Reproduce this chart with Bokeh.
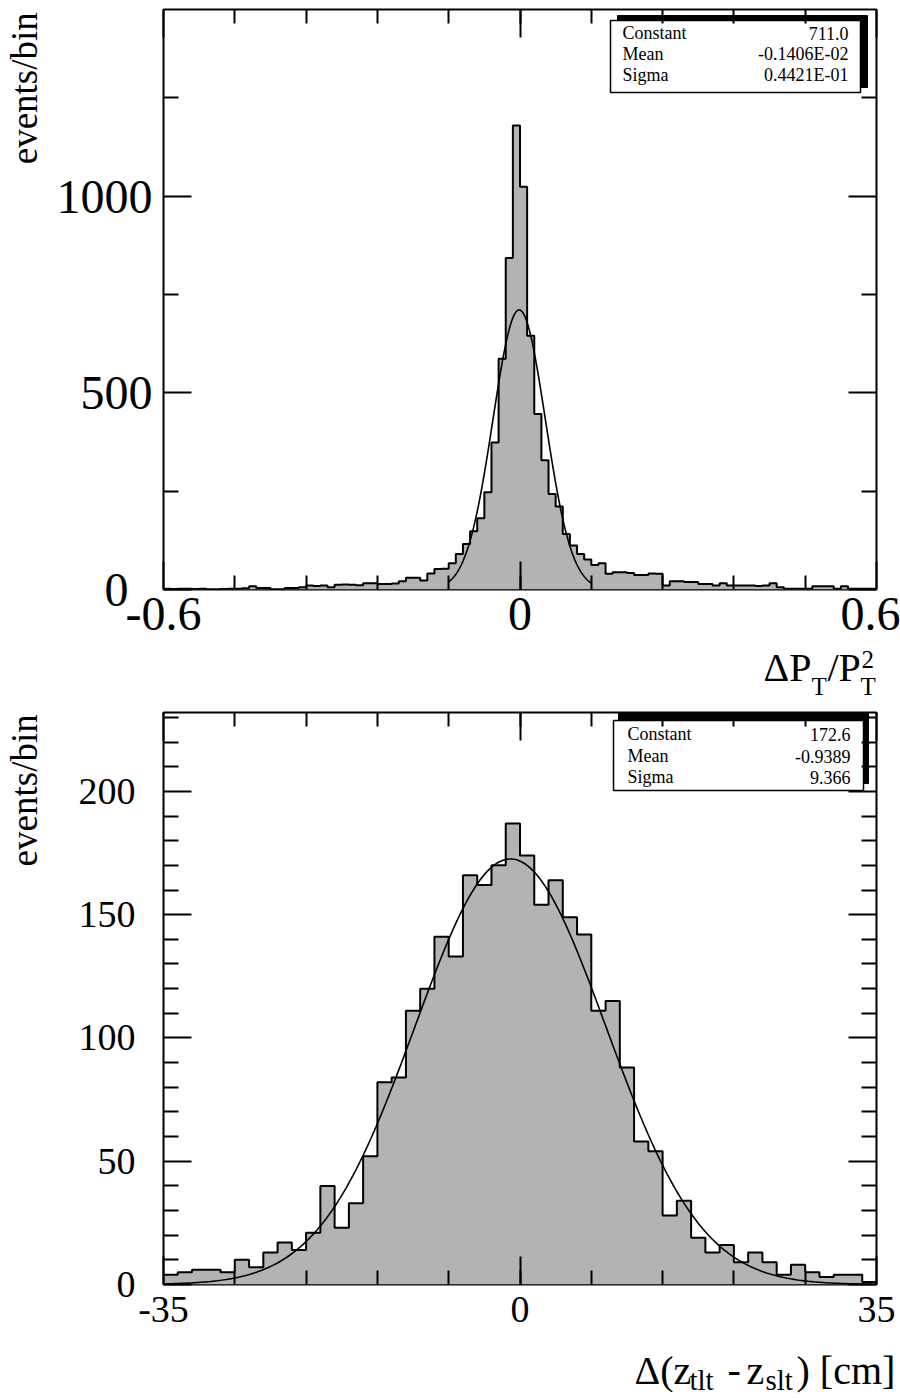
import numpy as np
from bokeh.plotting import figure
from bokeh.models import FixedTicker, LinearAxis, Label
from bokeh.layouts import column, row
from bokeh.embed import file_html
from bokeh.resources import INLINE

# ---------------- data ----------------
pt_range = (-0.6, 0.6)
pt_counts = [2, 1, 2, 2, 1, 2, 0, 0, 1, 2,
             2, 3, 8, 4, 4, 0, 0, 4, 4, 6,
             10, 9, 10, 6, 12, 13, 12, 11, 16, 16,
             14, 14, 15, 21, 30, 30, 23, 41, 52, 53,
             67, 90, 116, 148, 181, 247, 374, 587, 843, 1180,
             1024, 645, 446, 329, 243, 211, 141, 112, 90, 76,
             62, 67, 40, 44, 44, 42, 37, 37, 41, 40,
             10, 21, 21, 19, 19, 14, 14, 10, 16, 10,
             10, 10, 10, 9, 10, 16, 6, 2, 2, 2,
             2, 8, 8, 8, 2, 8, 2, 2, 2, 2]
pt_fit = (711.0, -0.1406e-02, 0.4421e-01)   # constant, mean, sigma
pt_fit_range = (-0.12, 0.12)
pt_stat_names = ["Constant", "Mean", "Sigma"]
pt_stat_values = ["711.0", "-0.1406E-02", "0.4421E-01"]
pt_xticks = [-0.6, 0, 0.6]
pt_xtick_labels = ["-0.6", "0", "0.6"]
pt_yticks = [0, 500, 1000]
pt_ytick_labels = ["0\u00a0\u00a0", "500", "1000"]
pt_ymax = 1475

z_range = (-35, 35)
z_counts = [4, 5, 6, 6, 5, 10, 7, 13, 17, 14,
            21, 40, 23, 33, 52, 82, 84, 111, 120, 141,
            133, 166, 162, 170, 187, 174, 154, 164, 149, 142,
            111, 115, 88, 58, 54, 28, 34, 19, 13, 16,
            9, 13, 9, 4, 8, 5, 3, 4, 4, 1]
z_fit = (172.6, -0.9389, 9.366)
z_stat_names = ["Constant", "Mean", "Sigma"]
z_stat_values = ["172.6", "-0.9389", "9.366"]
z_xticks = [-35, 0, 35]
z_xtick_labels = ["-35", "0", "35"]
z_yticks = [0, 50, 100, 150, 200]
z_ytick_labels = ["0", "50", "100", "150", "200"]
z_ymax = 232

FONT = "Liberation Serif"
FILL = "#b3b3b3"
MID = 0.3375   # distance (in em) from the "middle" anchor down to the alphabetic baseline

# page geometry (pixels from top-left of the page)
TOTAL_W = 900
YLAB_W = 44
FL, FR = 163, 876          # frame left/right
T_TOP, T_BOT = 9, 589      # top frame
B_TOP, B_BOT = 712, 1284   # bottom frame
P1_Y0, P1_H = 0, 644
XT1_Y0, XT1_H = 644, 56
P2_Y0, P2_H = 700, 634
XT2_Y0, XT2_H = 1334, 62


def mapper(xlo, xhi, ytop_px, ybot_px, ymax):
    def fx(px):
        return xlo + (px - FL) / (FR - FL) * (xhi - xlo)

    def fy(py):
        return (ybot_px - py) / (ybot_px - ytop_px) * ymax
    return fx, fy


def style_axis(ax, major_len, minor_len, font_size, standoff, labels=True):
    ax.axis_line_color = None
    ax.major_tick_in = major_len
    ax.major_tick_out = 0
    ax.minor_tick_in = minor_len
    ax.minor_tick_out = 0
    ax.major_tick_line_width = 2
    ax.minor_tick_line_width = 2
    ax.major_tick_line_color = "black"
    ax.minor_tick_line_color = "black"
    ax.major_label_text_font = FONT
    if labels:
        ax.major_label_text_color = "black"
        ax.major_label_text_font_size = font_size
        ax.major_label_standoff = standoff
    else:
        ax.major_label_text_color = None
        ax.major_label_text_font_size = "2px"
        ax.major_label_standoff = 0


def make_hist(lo, hi, counts, ymax, fit, fit_range, xticks, xlabels, xminor,
              yticks, ylabels, yminor, fig_y0, height, frame_top_px, frame_bot_px,
              tick_font, ystandoff, xstandoff):
    width = TOTAL_W - YLAB_W
    top_border = frame_top_px - fig_y0
    bot_border = height - top_border - (frame_bot_px - frame_top_px)
    p = figure(width=width, height=height, x_range=(lo, hi), y_range=(0, ymax),
               output_backend="svg", toolbar_location=None, title=None,
               min_border_left=FL - YLAB_W, min_border_right=TOTAL_W - FR,
               min_border_top=top_border, min_border_bottom=bot_border,
               background_fill_color="white", border_fill_color="white")
    p.xgrid.visible = False
    p.ygrid.visible = False
    p.outline_line_color = "black"
    p.outline_line_width = 2

    counts = np.asarray(counts, dtype=float)
    edges = np.linspace(lo, hi, len(counts) + 1)
    xs = np.repeat(edges, 2)
    ys = np.concatenate([[0.0], np.repeat(counts, 2), [0.0]])
    p.patch(xs, ys, fill_color=FILL, line_color=None)
    p.line(xs, ys, line_color="black", line_width=2)

    c, m, s = fit
    fx0, fx1 = fit_range
    gx = np.linspace(fx0, fx1, 400)
    gy = c * np.exp(-0.5 * ((gx - m) / s) ** 2)
    p.line(gx, gy, line_color="black", line_width=1.6)

    xax = p.xaxis[0]
    xax.ticker = FixedTicker(ticks=xticks, minor_ticks=xminor)
    xax.major_label_overrides = {t: l for t, l in zip(xticks, xlabels)}
    style_axis(xax, 28, 14, tick_font, xstandoff)
    yax = p.yaxis[0]
    yax.ticker = FixedTicker(ticks=yticks, minor_ticks=yminor)
    yax.major_label_overrides = {t: l for t, l in zip(yticks, ylabels)}
    style_axis(yax, 28, 15, tick_font, ystandoff)

    top_ax = LinearAxis(ticker=FixedTicker(ticks=xticks, minor_ticks=xminor))
    style_axis(top_ax, 28, 14, tick_font, 0, labels=False)
    p.add_layout(top_ax, "above")
    right_ax = LinearAxis(ticker=FixedTicker(ticks=yticks, minor_ticks=yminor))
    style_axis(right_ax, 28, 15, tick_font, 0, labels=False)
    p.add_layout(right_ax, "right")
    return p


def add_stats(p, fx, fy, box_px, shadow_px, names, values, text_x_px, val_x_px, rows_px):
    l, t, r, b = box_px
    sl, st, sr, sb = shadow_px
    p.quad(left=[fx(sl)], right=[fx(sr)], top=[fy(st)], bottom=[fy(sb)],
           fill_color="black", line_color="black")
    p.quad(left=[fx(l)], right=[fx(r)], top=[fy(t)], bottom=[fy(b)],
           fill_color="white", line_color="black", line_width=1.5)
    size = 18
    for n, v, ry in zip(names, values, rows_px):
        y = fy(ry - MID * size)
        p.add_layout(Label(x=fx(text_x_px), y=y, text=n, text_font=FONT,
                           text_font_size=f"{size}px", text_align="left",
                           text_baseline="middle", text_color="black"))
        p.add_layout(Label(x=fx(val_x_px), y=y, text=v, text_font=FONT,
                           text_font_size=f"{size}px", text_align="right",
                           text_baseline="middle", text_color="black"))


def pixel_figure(width, height):
    f = figure(width=width, height=height, x_range=(0, width), y_range=(0, height),
               output_backend="svg", toolbar_location=None, title=None,
               x_axis_location=None, y_axis_location=None,
               min_border=0, background_fill_color="white", border_fill_color="white")
    f.outline_line_color = None
    f.xgrid.visible = False
    f.ygrid.visible = False
    return f


def put(f, y0, height, px, base_py, text, size, align="left"):
    """horizontal text whose alphabetic baseline sits at page y = base_py"""
    py = base_py - MID * size
    f.add_layout(Label(x=px, y=height - (py - y0), text=text, text_font=FONT,
                       text_font_size=f"{size}px", text_align=align, text_baseline="middle",
                       text_color="black"))


def put_vertical(f, y0, height, base_px, end_py, text, size):
    """text rotated 90 deg, baseline at page x = base_px, its end at page y = end_py"""
    px = base_px - MID * size
    f.add_layout(Label(x=px, y=height - (end_py - y0), text=text, text_font=FONT,
                       text_font_size=f"{size}px", text_align="right", text_baseline="middle",
                       angle=np.pi / 2, text_color="black"))


# ---------------- top plot ----------------
pt_xminor = [round(-0.6 + 0.12 * k, 2) for k in range(1, 10)]
pt_yminor = [250, 750, 1250]
p1 = make_hist(pt_range[0], pt_range[1], pt_counts, pt_ymax, pt_fit, pt_fit_range,
               pt_xticks, pt_xtick_labels, pt_xminor, pt_yticks, pt_ytick_labels, pt_yminor,
               P1_Y0, P1_H, T_TOP, T_BOT, "48px", 11, 8)
fx1, fy1 = mapper(pt_range[0], pt_range[1], T_TOP, T_BOT, pt_ymax)
add_stats(p1, fx1, fy1, (610, 20, 860, 92), (617, 15, 867, 87),
          pt_stat_names, pt_stat_values, 622, 848, (39, 60, 81))

ylab1 = pixel_figure(YLAB_W, P1_H)
put_vertical(ylab1, P1_Y0, P1_H, 36, 3, "events/bin", 37)

xt1 = pixel_figure(TOTAL_W, XT1_H)
put(xt1, XT1_Y0, XT1_H, 763, 680, "\u0394P", 40)
put(xt1, XT1_Y0, XT1_H, 811, 694, "T", 25)
put(xt1, XT1_Y0, XT1_H, 827, 680, "/P", 40)
put(xt1, XT1_Y0, XT1_H, 860, 694, "T", 25)
put(xt1, XT1_Y0, XT1_H, 861, 667, "2", 25)

# ---------------- bottom plot ----------------
z_xminor = [-35 + 7 * k for k in range(1, 10)]
z_yminor = [v for v in range(10, 231, 10) if v % 50 != 0]
p2 = make_hist(z_range[0], z_range[1], z_counts, z_ymax, z_fit, z_range,
               z_xticks, z_xtick_labels, z_xminor, z_yticks, z_ytick_labels, z_yminor,
               P2_Y0, P2_H, B_TOP, B_BOT, "38px", 28, 12)
fx2, fy2 = mapper(z_range[0], z_range[1], B_TOP, B_BOT, z_ymax)
add_stats(p2, fx2, fy2, (613, 720, 863, 790), (618, 713, 868, 783),
          z_stat_names, z_stat_values, 627, 850, (740, 762, 783))

ylab2 = pixel_figure(YLAB_W, P2_H)
put_vertical(ylab2, P2_Y0, P2_H, 36, 702, "events/bin", 37)

xt2 = pixel_figure(TOTAL_W, XT2_H)
put(xt2, XT2_Y0, XT2_H, 634, 1383, "\u0394(z", 40)
put(xt2, XT2_Y0, XT2_H, 689, 1389, "tlt", 29)
put(xt2, XT2_Y0, XT2_H, 727, 1383, "-", 40)
put(xt2, XT2_Y0, XT2_H, 746, 1383, "z", 40)
put(xt2, XT2_Y0, XT2_H, 765, 1389, "slt", 29)
put(xt2, XT2_Y0, XT2_H, 796, 1383, ") [cm]", 40)

layout = column(row(ylab1, p1, spacing=0), xt1, row(ylab2, p2, spacing=0), xt2, spacing=0)
open("out.html", "w").write(file_html(layout, INLINE))
